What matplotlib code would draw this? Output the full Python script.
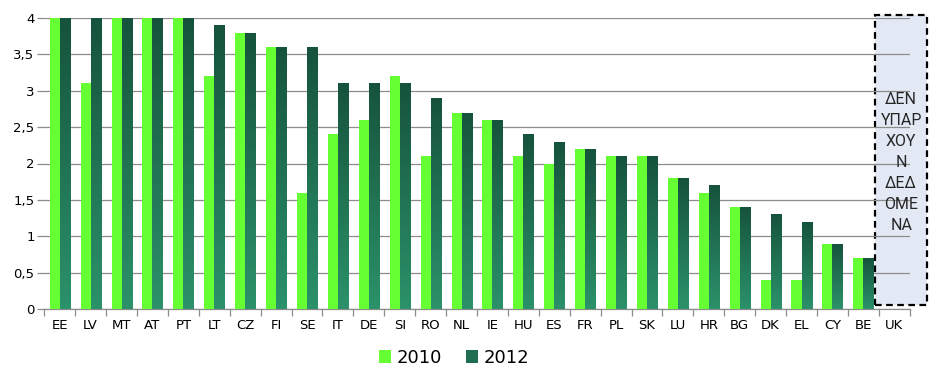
import numpy as np
import matplotlib
matplotlib.use("Agg")
import matplotlib.pyplot as plt
from matplotlib.patches import Rectangle, Patch
from matplotlib.colors import LinearSegmentedColormap

countries = ["EE", "LV", "MT", "AT", "PT", "LT", "CZ", "FI", "SE", "IT", "DE", "SI", "RO", "NL",
             "IE", "HU", "ES", "FR", "PL", "SK", "LU", "HR", "BG", "DK", "EL", "CY", "BE", "UK"]
v2010 = [4, 3.1, 4, 4, 4, 3.2, 3.8, 3.6, 1.6, 2.4, 2.6, 3.2, 2.1, 2.7,
         2.6, 2.1, 2.0, 2.2, 2.1, 2.1, 1.8, 1.6, 1.4, 0.4, 0.4, 0.9, 0.7, np.nan]
v2012 = [4, 4, 4, 4, 4, 3.9, 3.8, 3.6, 3.6, 3.1, 3.1, 3.1, 2.9, 2.7,
         2.6, 2.4, 2.3, 2.2, 2.1, 2.1, 1.8, 1.7, 1.4, 1.3, 1.2, 0.9, 0.7, np.nan]
yticks = [0, 0.5, 1, 1.5, 2, 2.5, 3, 3.5, 4]
ytick_labels = ["0", "0,5", "1", "1,5", "2", "2,5", "3", "3,5", "4"]
series_names = ["2010", "2012"]
nodata_text = "ΔΕΝ\nΥΠΑΡ\nΧΟΥ\nΝ\nΔΕΔ\nΟΜΕ\nΝΑ"

GREEN = "#66ff33"
DARK_TOP = "#16533c"
DARK_BOT = "#2b926a"
grad_cmap = LinearSegmentedColormap.from_list("g", [DARK_BOT, DARK_TOP])

fig = plt.figure(figsize=(9.36, 3.8), dpi=100)
ax = fig.add_axes([44.3 / 936, 1 - 309 / 380, (909.7 - 44.3) / 936, (309 - 18) / 380])

x = np.arange(len(countries))
w = 0.325
ax.bar(x - w / 2, v2010, width=w, color=GREEN, zorder=3, linewidth=0)
dark = ax.bar(x + w / 2, v2012, width=w, color=DARK_BOT, zorder=3, linewidth=0)

grad = np.linspace(0, 1, 256).reshape(-1, 1)
for b, v in zip(dark, v2012):
    if np.isnan(v):
        continue
    x0 = b.get_x()
    im = ax.imshow(grad, cmap=grad_cmap, origin="lower", aspect="auto",
                   extent=[x0, x0 + b.get_width(), 0, v], zorder=3.5, interpolation="bilinear")
    im.set_clip_path(b)

ax.set_xlim(-0.5, len(countries) - 0.5)
ax.set_ylim(0, 4)
ax.set_yticks(yticks)
ax.set_yticklabels(ytick_labels, fontsize=9.5)
ax.yaxis.grid(True, color="#8c8c8c", linewidth=0.9, zorder=1)
ax.set_axisbelow(True)
ax.tick_params(axis="y", length=5, color="#8c8c8c", width=0.9, pad=2)

ax.set_xticks(x)
ax.set_xticklabels(countries, fontsize=9.5)
ax.set_xticks(np.arange(len(countries) + 1) - 0.5, minor=True)
ax.tick_params(axis="x", which="major", length=0, pad=7)
ax.tick_params(axis="x", which="minor", length=5, color="#8c8c8c", width=0.9)

for s in ["top", "right", "left"]:
    ax.spines[s].set_visible(False)
ax.spines["bottom"].set_color("#8c8c8c")
ax.spines["bottom"].set_linewidth(0.9)

# no-data box for UK
bx0, bx1 = 26.38, 28.07
by0, by1 = 0.055, 4.04
box = Rectangle((bx0, by0), bx1 - bx0, by1 - by0, facecolor="#e3e9f4", edgecolor="black",
                linestyle=(0, (3, 2)), linewidth=1.6, zorder=0.5, clip_on=False)
ax.add_patch(box)
ax.text((bx0 + bx1) / 2, 2.02, nodata_text, ha="center", va="center", fontsize=11.5,
        family=["Roboto", "DejaVu Sans"],
        color="#262626", linespacing=1.5, zorder=5, clip_on=False)

handles = [Patch(facecolor=GREEN, edgecolor="none"), Patch(facecolor="#1f6e50", edgecolor="none")]
fig.legend(handles, series_names, loc="center", bbox_to_anchor=(0.485, 1 - 358 / 380), ncol=2,
           frameon=False, fontsize=13, handlelength=0.7, handleheight=0.7, handletextpad=0.3,
           columnspacing=1.3)

fig.savefig("out.png", dpi=100)
